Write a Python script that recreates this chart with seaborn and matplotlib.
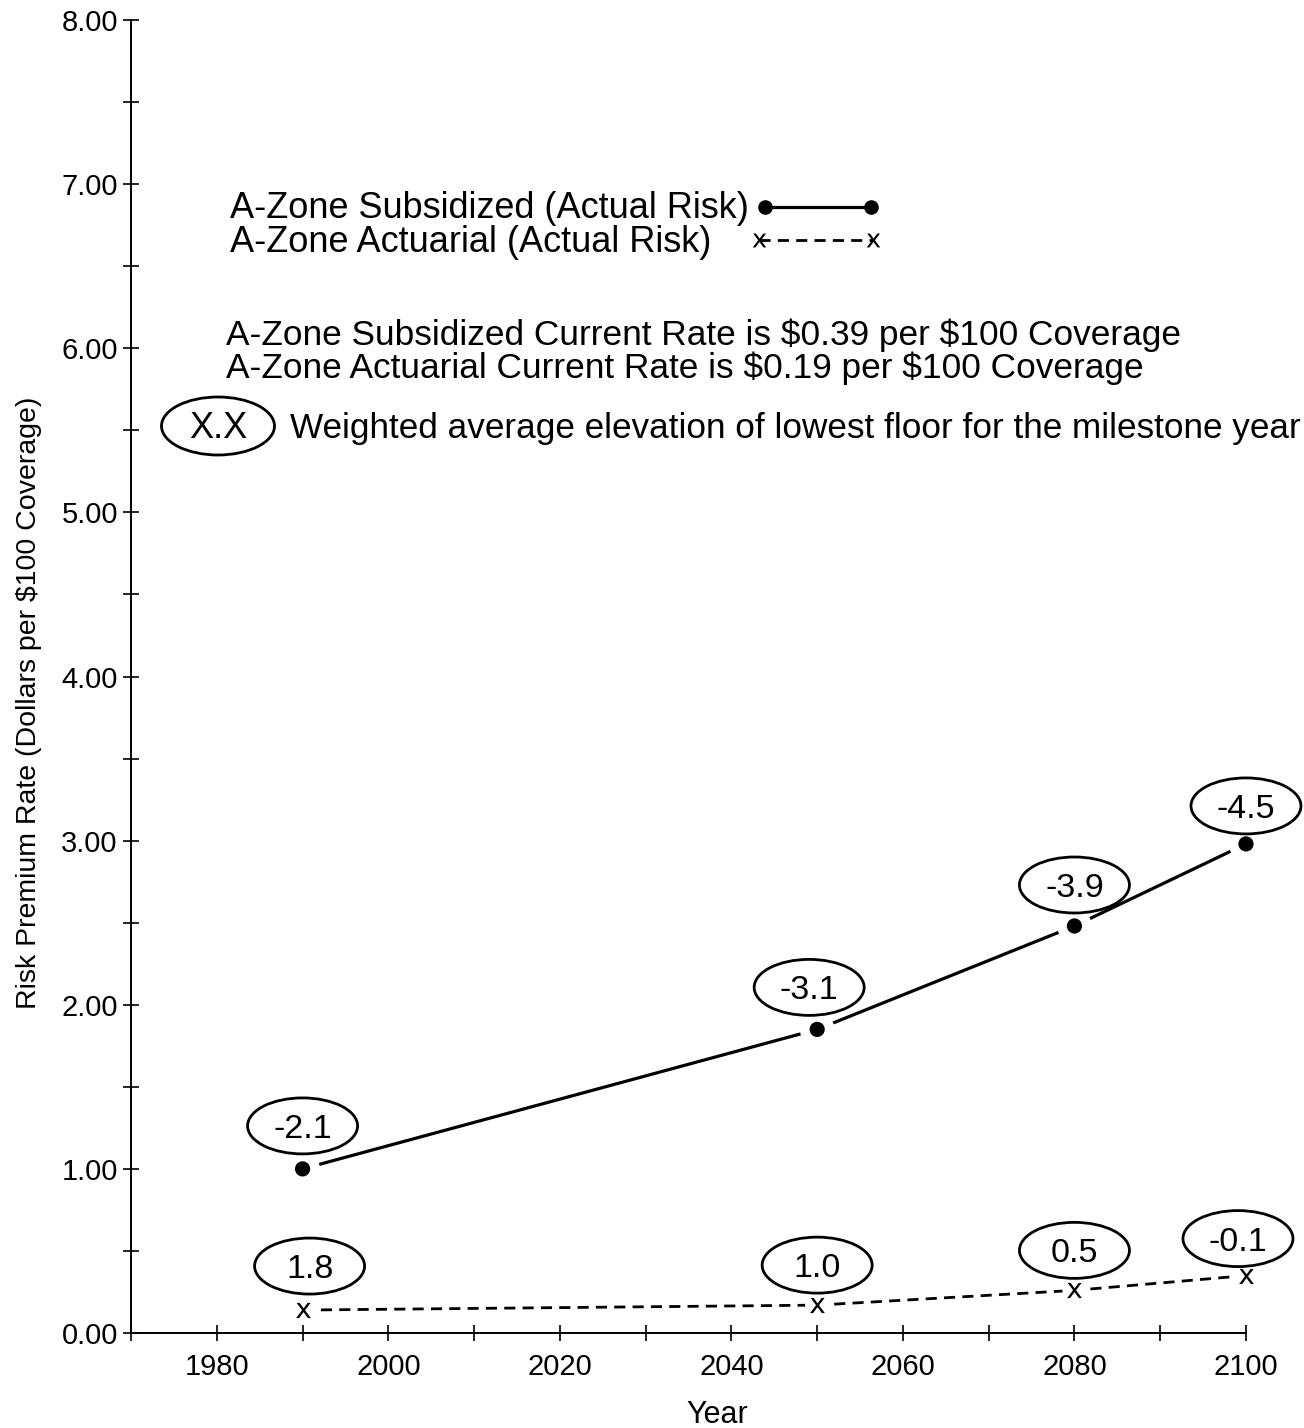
import numpy as np
import pandas as pd
import matplotlib
matplotlib.use("Agg")
import matplotlib.pyplot as plt
import seaborn as sns
from matplotlib.lines import Line2D
from matplotlib.patches import Ellipse
from matplotlib.transforms import ScaledTranslation
from matplotlib.ticker import MultipleLocator, FormatStrFormatter

# milestone years and risk premium rates ($ per $100 coverage)
years = [1990, 2050, 2080, 2100]
subsidized = [1.00, 1.85, 2.48, 2.98]
actuarial = [0.14, 0.17, 0.26, 0.35]
# weighted average elevation of lowest floor
sub_elev = ["-2.1", "-3.1", "-3.9", "-4.5"]
act_elev = ["1.8", "1.0", "0.5", "-0.1"]
series_names = ["A-Zone Subsidized (Actual Risk)", "A-Zone Actuarial (Actual Risk)"]
notes = ["A-Zone Subsidized Current Rate is \\$0.39 per \\$100 Coverage",
         "A-Zone Actuarial Current Rate is \\$0.19 per \\$100 Coverage"]

sns.set_style("ticks")
plt.rcParams["font.family"] = ["Liberation Sans", "DejaVu Sans"]
plt.rcParams["text.color"] = "black"
plt.rcParams["axes.labelcolor"] = "black"

W, H = 1304, 1428
fig = plt.figure(figsize=(W / 100, H / 100), dpi=100)
ax = fig.add_axes([0.1005, 0.0665, 0.855, 0.9195])

df = pd.DataFrame({"year": years, "sub": subsidized, "act": actuarial})

# subsidized: solid line, dots with a white halo so the line stops short
sns.lineplot(data=df, x="year", y="sub", color="black", lw=2.3, ax=ax, zorder=2)
sns.scatterplot(data=df, x="year", y="sub", s=620, color="white", edgecolor="none", ax=ax, zorder=3)
sns.scatterplot(data=df, x="year", y="sub", s=120, color="black", edgecolor="none", ax=ax, zorder=4)

# actuarial: dashed line with small x's
sns.lineplot(data=df, x="year", y="act", color="black", lw=2.0, ax=ax, zorder=2)
ax.lines[-1].set_dashes((4, 2.6))
sns.scatterplot(data=df, x="year", y="act", s=300, color="white", edgecolor="none", ax=ax, zorder=3)
sns.scatterplot(data=df, x="year", y="act", s=120, color="black", marker=r"$\mathsf{x}$",
                linewidth=0, ax=ax, zorder=4)
for c in ax.collections:
    c.set_clip_on(False)
for ln in ax.lines:
    ln.set_clip_on(False)


def bubble(x, y, label, dx, dy):
    tr = fig.dpi_scale_trans + ScaledTranslation(x, y, ax.transData)
    ax.add_artist(Ellipse((dx, dy), 1.10, 0.56, transform=tr, facecolor="white",
                          edgecolor="black", lw=2.0, zorder=5, clip_on=False))
    ax.text(dx, dy, label, transform=tr, ha="center", va="center_baseline", fontsize=24.5,
            zorder=6, clip_on=False)


sub_off = [(0.0, 0.43), (-0.08, 0.42), (0.0, 0.41), (0.0, 0.38)]
act_off = [(0.07, 0.44), (0.0, 0.40), (0.0, 0.40), (-0.08, 0.37)]
for x, y, lab, (dx, dy) in zip(years, subsidized, sub_elev, sub_off):
    bubble(x, y, lab, dx, dy)
for x, y, lab, (dx, dy) in zip(years, actuarial, act_elev, act_off):
    bubble(x, y, lab, dx, dy)

ax.set_xlim(1970, 2100)
ax.set_ylim(0, 8)
ax.xaxis.set_major_locator(MultipleLocator(20))
ax.xaxis.set_minor_locator(MultipleLocator(10))
ax.yaxis.set_major_locator(MultipleLocator(1))
ax.yaxis.set_minor_locator(MultipleLocator(0.5))
ax.yaxis.set_major_formatter(FormatStrFormatter("%.2f"))
ax.set_xticks(range(1980, 2101, 20))
ax.tick_params(axis="both", which="both", direction="inout", length=11, width=1.2,
               colors="black", labelcolor="black")
ax.tick_params(axis="x", labelsize=21, pad=9)
ax.tick_params(axis="y", labelsize=21, pad=4)
sns.despine(ax=ax)
for s in ["left", "bottom"]:
    ax.spines[s].set_linewidth(1.4)
    ax.spines[s].set_color("black")

ax.set_xlabel("Year", fontsize=22)
ax.xaxis.set_label_coords(0.526, -0.051)
ax.set_ylabel("Risk Premium Rate (Dollars per $100 Coverage)", fontsize=20.5)
ax.yaxis.set_label_coords(-0.08, 0.48)

# legend: labels as text, sample lines as one-entry legends to the right
handles = [
    Line2D([], [], color="black", lw=2.3, marker="o", markersize=9.5),
    Line2D([], [], color="black", lw=2.0, ls=(0, (4, 2.6)), marker=r"$\mathsf{x}$", markersize=10,
           markeredgewidth=0),
]
row_base = [218, 252]
row_mid = [210, 243]
row_x = [754, 748]
row_len = [3.55, 3.75]
for name, h, yb, ym, x0, hl in zip(series_names, handles, row_base, row_mid, row_x, row_len):
    fig.text(230 / W, 1 - yb / H, name, fontsize=26, va="baseline")
    fig.legend([h], [""], loc="center left", bbox_to_anchor=(x0 / W, 1 - ym / H),
               frameon=False, fontsize=26, numpoints=2, handlelength=hl,
               handletextpad=0, borderpad=0, borderaxespad=0)

for txt, yb in zip(notes, [345, 378]):
    fig.text(226 / W, 1 - yb / H, txt, fontsize=25.35, va="baseline")

fig.add_artist(Ellipse((218 / W, 1 - 426 / H), 113 / W, 58 / H, transform=fig.transFigure,
                       facecolor="white", edgecolor="black", lw=2.0))
fig.text(218 / W, 1 - 438 / H, "X.X", fontsize=26, ha="center", va="baseline")
fig.text(290 / W, 1 - 438 / H, "Weighted average elevation of lowest floor for the milestone year",
         fontsize=25.3, va="baseline")

fig.savefig("out.png", dpi=100)
